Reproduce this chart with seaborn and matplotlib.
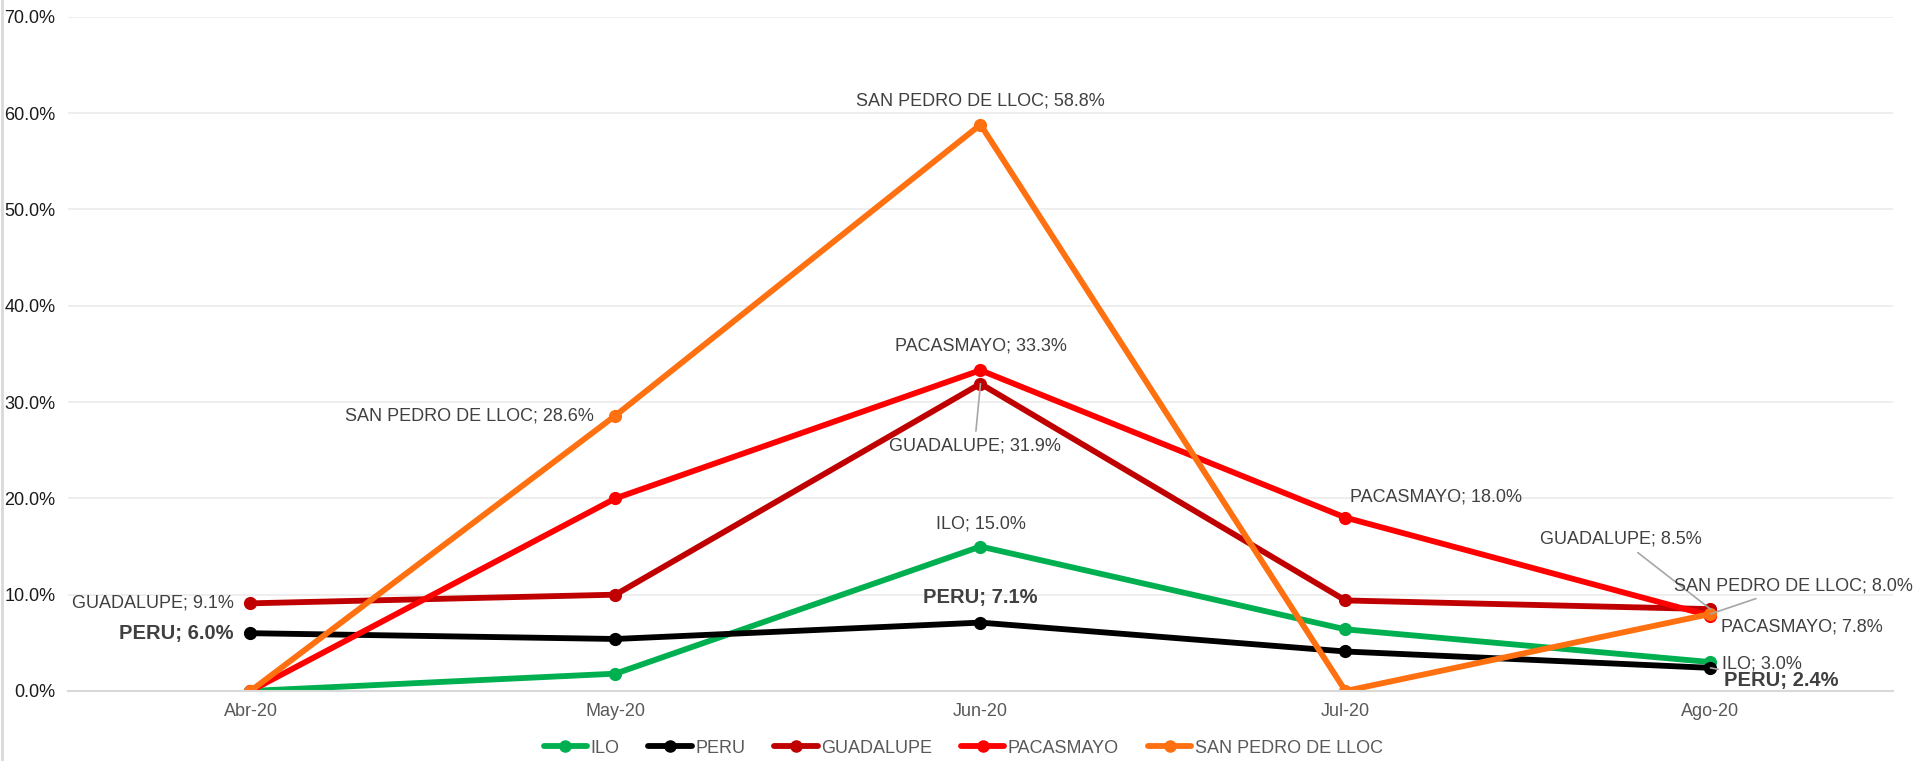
import pandas as pd
import numpy as np
import seaborn as sns
import matplotlib.pyplot as plt
from matplotlib.lines import Line2D

# datos
meses = ['Abr-20', 'May-20', 'Jun-20', 'Jul-20', 'Ago-20']
ilo = [0.0, 1.8, 15.0, 6.4, 3.0]
peru = [6.0, 5.4, 7.1, 4.1, 2.4]
guadalupe = [9.1, 10.0, 31.9, 9.4, 8.5]
pacasmayo = [0.0, 20.0, 33.3, 18.0, 7.8]
san_pedro = [0.0, 28.6, 58.8, 0.0, 8.0]

series = ['ILO', 'PERU', 'GUADALUPE', 'PACASMAYO', 'SAN PEDRO DE LLOC']
valores = [ilo, peru, guadalupe, pacasmayo, san_pedro]
colores = ['#00B050', '#000000', '#C00000', '#FF0000', '#FF7010']

filas = []
for nombre, vals in zip(series, valores):
    for i, v in enumerate(vals):
        filas.append({'serie': nombre, 'mes': i, 'valor': v / 100})
df = pd.DataFrame(filas)

sns.set_style('white')
plt.rcParams['font.family'] = ['Liberation Sans', 'DejaVu Sans']

fig = plt.figure(figsize=(19.15, 7.61), dpi=100)
ax = fig.add_axes([0.0355, 0.092, 0.953, 0.886])

sns.lineplot(data=df, x='mes', y='valor', hue='serie', hue_order=series,
             palette=dict(zip(series, colores)), marker='o', markersize=9.5,
             markeredgewidth=0, linewidth=4.2, ax=ax, legend=False)

ax.set_xlim(-0.5, 4.5)
ax.set_ylim(0, 0.70)
ax.set_yticks(np.arange(0, 0.71, 0.1))
ax.set_yticklabels([f'{t*100:.1f}%' for t in np.arange(0, 0.71, 0.1)], fontsize=13, color='#1a1a1a')
ax.set_xticks(range(len(meses)))
ax.set_xticklabels(meses, fontsize=13, color='#595959')
ax.tick_params(axis='both', length=0)
ax.tick_params(axis='y', pad=9)
ax.tick_params(axis='x', pad=9)
ax.set_xlabel('')
ax.set_ylabel('')
ax.grid(axis='y', color='#EBEBEB', linewidth=1.2)
ax.set_axisbelow(True)
for s in ['top', 'right', 'left']:
    ax.spines[s].set_visible(False)
ax.spines['bottom'].set_color('#D9D9D9')
ax.spines['bottom'].set_linewidth(1.5)

# etiquetas de datos: (serie, mes, dx, dy, ha, negrita, linea guia)
etiquetas = [
    ('PERU', 0, -17, 0, 'right', True, False),
    ('GUADALUPE', 0, -17, 0, 'right', False, False),
    ('SAN PEDRO DE LLOC', 1, -22, 0, 'right', False, False),
    ('SAN PEDRO DE LLOC', 2, 0, 24, 'center', False, False),
    ('PACASMAYO', 2, 0, 24, 'center', False, False),
    ('GUADALUPE', 2, -6, -62, 'center', False, True),
    ('ILO', 2, 0, 23, 'center', False, False),
    ('PERU', 2, 0, 25, 'center', True, False),
    ('PACASMAYO', 3, 5, 21, 'left', False, False),
    ('GUADALUPE', 4, -90, 70, 'center', False, True),
    ('SAN PEDRO DE LLOC', 4, 83, 28, 'center', False, True),
    ('PACASMAYO', 4, 11, -11, 'left', False, False),
    ('ILO', 4, 12, -2, 'left', False, False),
    ('PERU', 4, 14, -13, 'left', True, True),
]

for nombre, i, dx, dy, ha, negrita, guia in etiquetas:
    v = valores[series.index(nombre)][i]
    flecha = dict(arrowstyle='-', color='#A6A6A6', lw=1.2, shrinkA=2, shrinkB=0) if guia else None
    ax.annotate(f'{nombre}; {v:.1f}%', xy=(i, v / 100), xytext=(dx, dy),
                textcoords='offset pixels', ha=ha, va='center',
                fontsize=14.5 if negrita else 13,
                color='#404040', fontweight='bold' if negrita else 'normal',
                arrowprops=flecha, zorder=5)

# leyenda
handles = [Line2D([0], [0], color=c, lw=4.2, marker='o', markersize=8) for c in colores]
leg = fig.legend(handles, series, loc='center', bbox_to_anchor=(0.503, 0.017),
                 ncol=5, frameon=False, fontsize=13, handlelength=2.4,
                 columnspacing=1.6, handletextpad=0.2, borderpad=0)
for t in leg.get_texts():
    t.set_color('#595959')

# borde izquierdo del grafico
fig.add_artist(Line2D([0.001, 0.001], [0, 1], transform=fig.transFigure, color='#D9D9D9', lw=2))

plt.savefig('out.png', dpi=100)
